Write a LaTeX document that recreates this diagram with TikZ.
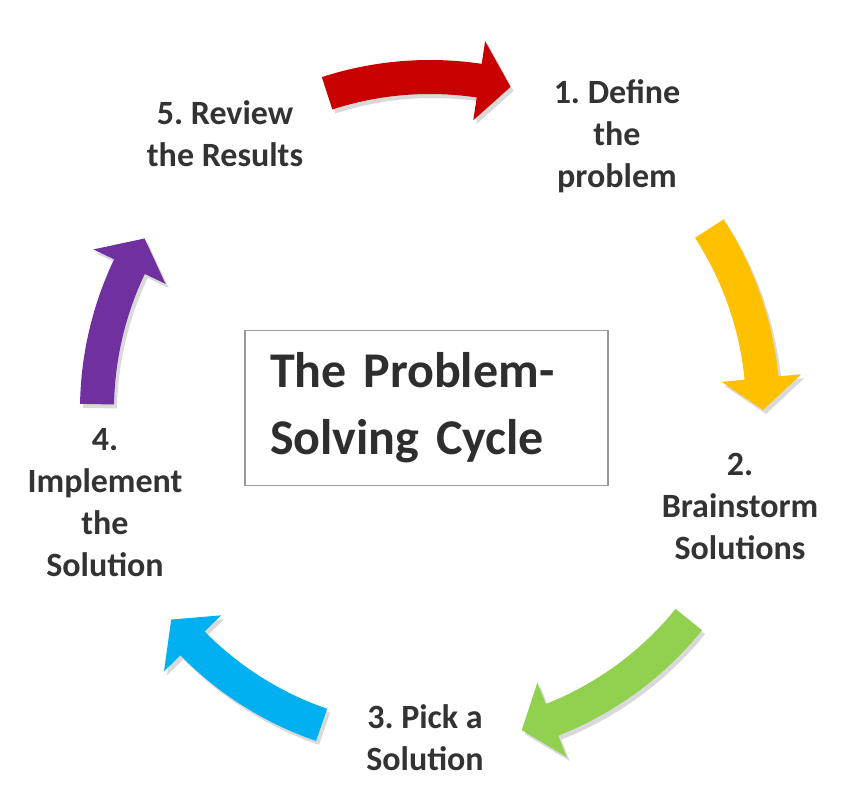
\documentclass[tikz,border=0pt]{standalone}
\usepackage{fontspec}
\setmainfont{Carlito}
\frenchspacing

\definecolor{cyclered}{HTML}{C80000}
\definecolor{cycleyellow}{HTML}{FFC000}
\definecolor{cyclegreen}{HTML}{92D050}
\definecolor{cycleblue}{HTML}{00B0F0}
\definecolor{cyclepurple}{HTML}{7030A0}

% 弯曲的粗箭头：#1 颜色/选项，#2 尾部角度，#3 箭尖角度（顺时针方向）
\newcommand{\cyclearrow}[3]{%
  \fill[#1] (#2:350) arc[start angle=#2, end angle=#3+5.5, radius=350]
        -- (#3+5.5:373) -- (#3:333) -- (#3+5.5:293) -- (#3+5.5:316)
        arc[start angle=#3+5.5, end angle=#2, radius=316] -- cycle;}

\begin{document}
\begin{tikzpicture}[x=1pt, y=1pt,
    steplabel/.style={font=\bfseries\fontsize{34}{42}\selectfont, text=black!80, align=center},
    titlebox/.style={draw=black!40, line width=1.6pt, inner xsep=25pt, text width=313pt,
        minimum height=155pt, font=\bfseries\fontsize{50}{67}\selectfont, text=black!82, align=left}]

    % 0. 画布大小与参考图一致
    \useasboundingbox (0,0) rectangle (854,802);

    % 1. 五个弯箭头，沿圆心 (430,392)、半径约 333 的圆排列
    \begin{scope}[shift={(430,392)}]
        % 浅灰阴影
        \cyclearrow{black!15, shift={(3,-4)}}{108}{76}
        \cyclearrow{black!15, shift={(3,-4)}}{33}{0}
        \cyclearrow{black!15, shift={(3,-4)}}{-39}{-74}
        \cyclearrow{black!15, shift={(3,-4)}}{-109}{-141}
        \cyclearrow{black!15, shift={(3,-4)}}{179}{149}
        % 彩色箭头
        \cyclearrow{cyclered}{108}{76}
        \cyclearrow{cycleyellow}{33}{0}
        \cyclearrow{cyclegreen}{-39}{-74}
        \cyclearrow{cycleblue}{-109}{-141}
        \cyclearrow{cyclepurple}{179}{149}
    \end{scope}

    % 2. 中间的标题框
    \node[titlebox] (title) at (426.5,394) {The Problem-\\Solving Cycle};

    % 3. 五个步骤的文字
    \node[steplabel] (define) at (617,666) {1. Define\\the\\problem};
    \node[steplabel] (brainstorm) at (740,296) {2.\\Brainstorm\\Solutions};
    \node[steplabel] (pick) at (425,64) {3. Pick a\\Solution};
    \node[steplabel] (implement) at (105,299) {4.\\Implement\\the\\Solution};
    \node[steplabel] (review) at (225,668) {5. Review\\the Results};

\end{tikzpicture}
\end{document}
